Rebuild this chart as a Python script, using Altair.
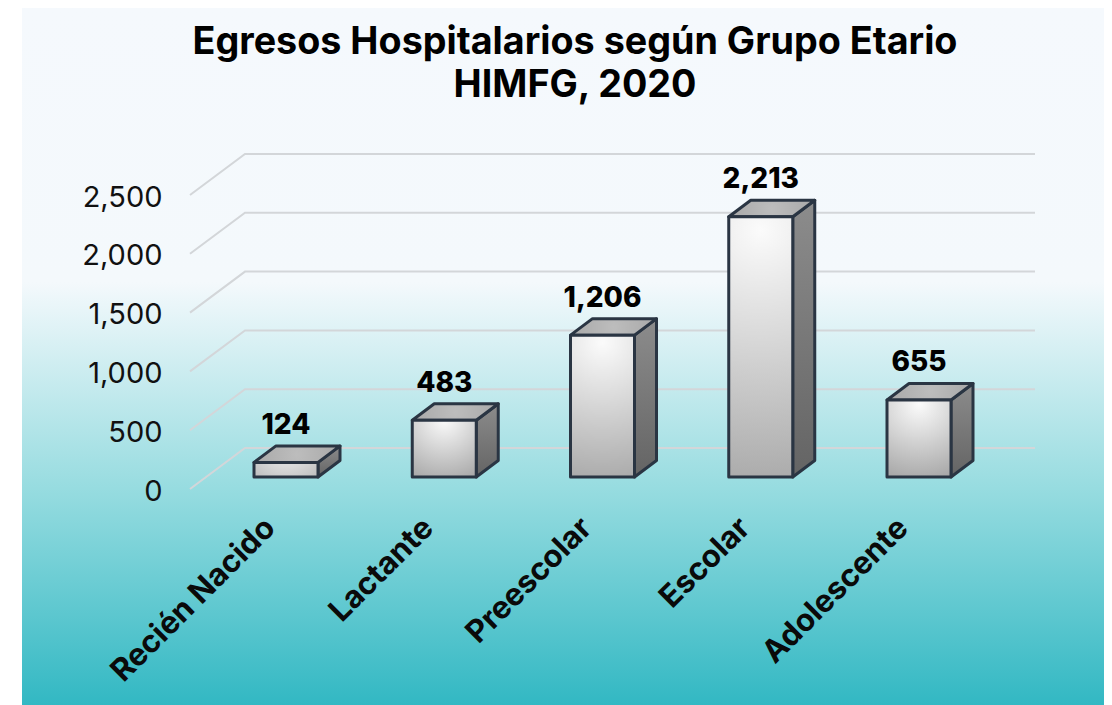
import altair as alt
import pandas as pd

categories = ["Recién Nacido", "Lactante", "Preescolar", "Escolar", "Adolescente"]
values = [124, 483, 1206, 2213, 655]
levels = [0, 500, 1000, 1500, 2000, 2500]
title_lines = ["Egresos Hospitalarios según Grupo Etario", "HIMFG, 2020"]

FONT = "Inter"
W, H = 1096, 697
STEP = 158.25          # px per category
PX = 0.1176            # px per unit value
X0, Y0 = 286, 477      # page px of first category / zero


def ux(px):
    return px / STEP


def uy(px):
    return px / PX


x_dom = [(8 - X0) / STEP, (8 + W - X0) / STEP]
y_dom = [-(8 + H - Y0) / PX, (Y0 - 8) / PX]
HALF, DX, DY = ux(32), ux(22), uy(16.5)

xs = alt.Scale(domain=x_dom, range=[0, W], nice=False, zero=False)
ys = alt.Scale(domain=y_dom, range=[H, 0], nice=False, zero=False)

labels_js = "[" + ",".join(f"'{c}'" for c in categories) + "]"
x_axis = alt.Axis(
    values=list(range(len(categories))),
    labelExpr=labels_js + "[datum.value]",
    labelAngle=-45, labelAlign="right", labelBaseline="middle",
    labelFont=FONT, labelFontSize=31, labelFontWeight=700, labelColor="#0a0a0a",
    labelOffset=-16, labelPadding=5, labelOverlap=False, labelBound=False, labelFlush=False,
    labelLimit=500,
    domain=False, ticks=False, grid=False, title=None, offset=-187, zindex=1,
)
y_axis = alt.Axis(
    values=levels, labelExpr="format(datum.value, ',')", orient="left",
    labelFont=FONT, labelFontSize=29, labelFontWeight=400, labelColor="#111111",
    labelOffset=14, labelPadding=0, labelOverlap=False, labelBound=False, labelFlush=False,
    domain=False, ticks=False, grid=False, title=None, offset=-154, zindex=1,
)
X = alt.X("x:Q", scale=xs, axis=x_axis)
Y = alt.Y("y:Q", scale=ys, axis=y_axis)
Y2 = alt.Y2("y2:Q")

bg = alt.Chart(pd.DataFrame({"a": [0]})).mark_rect(
    fill=alt.Gradient(
        gradient="linear", x1=0, y1=0, x2=0, y2=1,
        stops=[
            alt.GradientStop(offset=0, color="#f5f9fd"),
            alt.GradientStop(offset=0.395, color="#f4f9fc"),
            alt.GradientStop(offset=0.69, color="#97dce0"),
            alt.GradientStop(offset=1, color="#32b8c3"),
        ],
    )
).encode(x=alt.value(14), x2=alt.value(W), y=alt.value(-2), y2=alt.value(H))

grid_rows = []
for lv in levels:
    for i, (px, dpx) in enumerate([(190, -12), (245, 29), (1035, 29)]):
        grid_rows.append({"lv": lv, "i": i, "x": (px - X0) / STEP, "y": lv + uy(dpx)})
grid = alt.Chart(pd.DataFrame(grid_rows)).mark_line(color="#d3d6d9", strokeWidth=2).encode(
    x=X, y=Y, detail="lv:N", order="i:O"
)

STROKE = "#2a3543"
SW = 3
front_rows, top_rows, side_rows, label_rows = [], [], [], []
for i, v in enumerate(values):
    l, r = i - HALF, i + HALF
    front_rows.append({"x": l, "x2": r, "y": 0, "y2": v})
    top_rows += [
        {"b": i, "x": l, "y": v, "y2": v},
        {"b": i, "x": l + DX, "y": v, "y2": v + DY},
        {"b": i, "x": r, "y": v, "y2": v + DY},
        {"b": i, "x": r + DX, "y": v + DY, "y2": v + DY},
    ]
    side_rows += [
        {"b": i, "x": r, "y": 0, "y2": v},
        {"b": i, "x": r + DX, "y": DY, "y2": v + DY},
    ]
    label_rows.append({"x": i, "y": v + DY, "t": f"{v:,}"})

front = alt.Chart(pd.DataFrame(front_rows)).mark_rect(
    stroke=STROKE, strokeWidth=SW, strokeJoin="round",
    fill=alt.Gradient(
        gradient="radial", x1=0.5, y1=0.05, r1=0, x2=0.5, y2=0.05, r2=1,
        stops=[
            alt.GradientStop(offset=0, color="#fbfbfb"),
            alt.GradientStop(offset=1, color="#a8a8a8"),
        ],
    ),
).encode(x=X, x2=alt.X2("x2:Q"), y=Y, y2=Y2)

top = alt.Chart(pd.DataFrame(top_rows)).mark_area(
    stroke=STROKE, strokeWidth=SW, strokeJoin="round", opacity=1,
    fill=alt.Gradient(
        gradient="radial", x1=0.5, y1=0.5, r1=0, x2=0.5, y2=0.5, r2=0.7,
        stops=[
            alt.GradientStop(offset=0, color="#bdbdbd"),
            alt.GradientStop(offset=1, color="#a0a0a0"),
        ],
    ),
).encode(x=X, y=Y, y2=Y2, detail="b:N")

side = alt.Chart(pd.DataFrame(side_rows)).mark_area(
    stroke=STROKE, strokeWidth=SW, strokeJoin="round", opacity=1,
    fill=alt.Gradient(
        gradient="linear", x1=0, y1=0, x2=0, y2=1,
        stops=[
            alt.GradientStop(offset=0, color="#8c8c8c"),
            alt.GradientStop(offset=1, color="#646464"),
        ],
    ),
).encode(x=X, y=Y, y2=Y2, detail="b:N")

text = alt.Chart(pd.DataFrame(label_rows)).mark_text(
    font=FONT, fontSize=28, fontWeight=800, color="#000000", dy=-20, baseline="middle", align="center"
).encode(x=X, y=Y, text="t:N")

chart = alt.layer(bg, grid, side, top, front, text).properties(
    width=W, height=H,
    padding=0,
    autosize=alt.AutoSizeParams(type="none"),
    background="white",
    title=alt.TitleParams(
        text=title_lines, font=FONT, fontSize=37.7, fontWeight=700, color="#000000",
        anchor="middle", frame="group", dx=19, offset=-99, lineHeight=43,
    ),
).configure_view(stroke=None)

chart.save("out.html", embed_options={"renderer": "svg", "actions": False})
